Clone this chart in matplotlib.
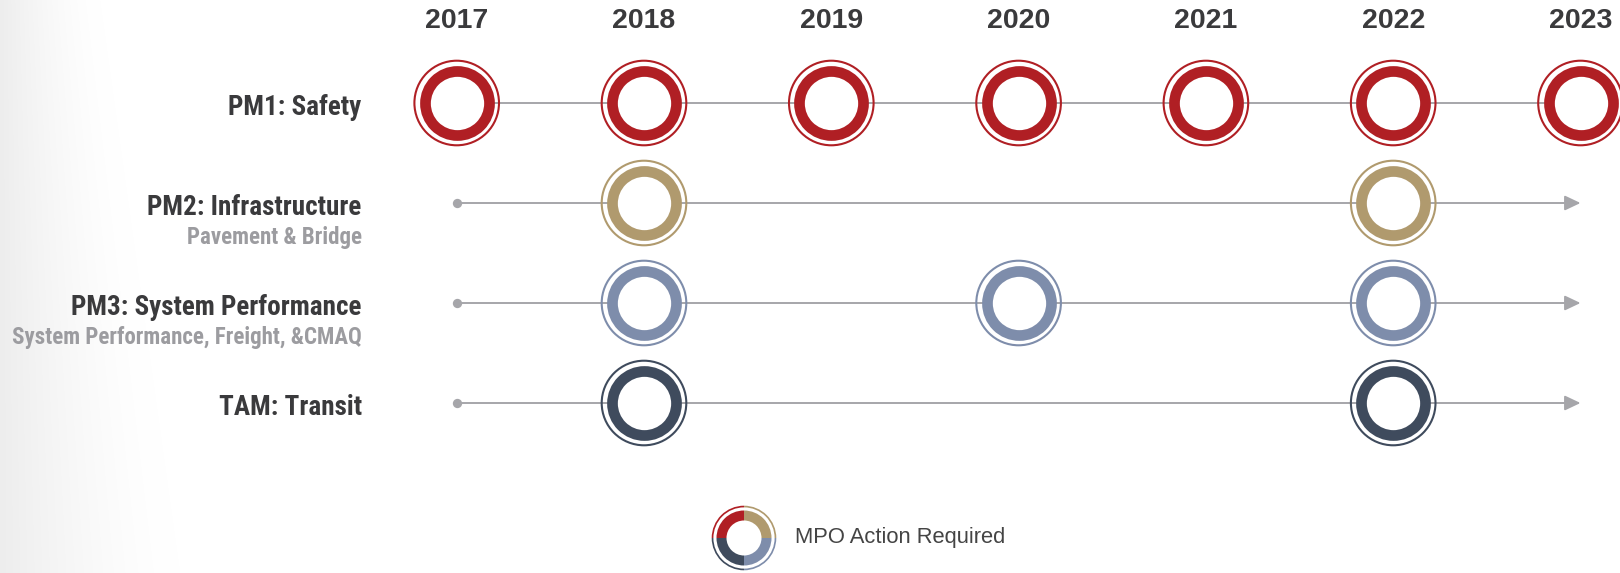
import numpy as np
import matplotlib
matplotlib.use("Agg")
import matplotlib.pyplot as plt
from matplotlib.patches import Wedge
from matplotlib import font_manager

# ---------------- data ----------------
years = [2017, 2018, 2019, 2020, 2021, 2022, 2023]
measures = ["PM1: Safety", "PM2: Infrastructure", "PM3: System Performance", "TAM: Transit"]
subtitles = ["", "Pavement & Bridge", "System Performance, Freight, &CMAQ", ""]
action_years = [
    [2017, 2018, 2019, 2020, 2021, 2022, 2023],
    [2018, 2022],
    [2018, 2020, 2022],
    [2018, 2022],
]
measure_colors = ["#B01F24", "#B09A6E", "#7E8DAB", "#3F4B5D"]
has_arrow = [False, True, True, True]
legend_label = "MPO Action Required"

# ---------------- style ----------------
W, H, DPI = 1620, 573, 100
LINE_GREY = "#A6A6AA"
DARK = "#3A3A3C"
SUB_GREY = "#9C9CA0"

avail = {f.name for f in font_manager.fontManager.ttflist}
narrow = [f for f in ["Liberation Sans Narrow", "Roboto Condensed", "Open Sans Condensed"] if f in avail]
NARROW = narrow[0] if narrow else "Liberation Sans"
REG = "Liberation Sans" if "Liberation Sans" in avail else "DejaVu Sans"

fig = plt.figure(figsize=(W / DPI, H / DPI), dpi=DPI)
fig.patch.set_facecolor("white")

# background gradient (left side soft grey)
bg = fig.add_axes([0, 0, 1, 1], zorder=0)
yy, xx = np.mgrid[0:H, 0:W]
reach = 100 + 80 * (yy / H)
t = np.clip(xx / reach, 0, 1)
val = 1 - 0.07 * (1 - t) ** 1.5
bg.imshow(np.dstack([val, val, val]), extent=[0, W, H, 0], aspect="auto", interpolation="bilinear")
bg.set_axis_off()

# main axes: x in years, y in row index (pixel-calibrated)
ax = fig.add_axes([0, 0, 1, 1], zorder=1)
ax.patch.set_alpha(0)
x0_px, dx_px = 456.7, 187.3
y0_px, dy_px = 103.0, 100.0
ax.set_xlim(years[0] - x0_px / dx_px, years[0] + (W - x0_px) / dx_px)
ax.set_ylim(-y0_px / dy_px + (H / dy_px), -y0_px / dy_px)
ax.set_axis_off()

for i, (name, sub, acts, col, arr) in enumerate(zip(measures, subtitles, action_years, measure_colors, has_arrow)):
    if arr:
        ax.annotate("", xy=(years[-1], i), xytext=(years[0], i),
                    arrowprops=dict(arrowstyle="-|>,head_length=0.95,head_width=0.45",
                                    color=LINE_GREY, lw=1.4, shrinkA=0, shrinkB=0,
                                    mutation_scale=10), zorder=2)
        ax.scatter([years[0]], [i], s=45, color=LINE_GREY, zorder=3, linewidths=0)
    else:
        ax.plot([years[0], years[-1]], [i, i], color=LINE_GREY, lw=1.4, zorder=2)
    ys = [i] * len(acts)
    # outer thin ring
    ax.scatter(acts, ys, s=60.9 ** 2, facecolors="none", edgecolors=col, linewidths=1.5, zorder=4)
    # thick ring with white hole
    ax.scatter(acts, ys, s=46.1 ** 2, facecolors="white", edgecolors=col, linewidths=7.7, zorder=5)

    ax.annotate(name, xy=(years[0], i), xytext=(-95, -5), textcoords="offset pixels",
                ha="right", va="center", fontsize=19.5, fontweight="bold",
                family=NARROW, color=DARK, zorder=6)
    if sub:
        ax.annotate(sub, xy=(years[0], i), xytext=(-95, -35), textcoords="offset pixels",
                    ha="right", va="center", fontsize=16.5, fontweight="bold",
                    family=NARROW, color=SUB_GREY, zorder=6)

for yr in years:
    ax.annotate(str(yr), xy=(yr, 0), xytext=(0, 82), textcoords="offset pixels",
                ha="center", va="center", fontsize=20.5, fontweight="bold",
                family=REG, color=DARK, zorder=6)

# legend icon
lx, ly, lsz = 744, 538, 70
lax = fig.add_axes([(lx - lsz / 2) / W, (H - ly - lsz / 2) / H, lsz / W, lsz / H], zorder=2)
lax.set_xlim(-lsz / 2, lsz / 2)
lax.set_ylim(-lsz / 2, lsz / 2)
lax.set_axis_off()
lax.patch.set_alpha(0)
quads = [(90, 180), (0, 90), (270, 360), (180, 270)]
for (t1, t2), col in zip(quads, measure_colors):
    lax.add_patch(Wedge((0, 0), 27.5, t1, t2, width=10.0, facecolor=col, edgecolor="none"))
    lax.add_patch(Wedge((0, 0), 32.3, t1, t2, width=1.7, facecolor=col, edgecolor="none"))

fig.text(795 / W, 1 - 538 / H, legend_label, ha="left", va="center",
         fontsize=15.8, family=REG, color="#444444")

fig.savefig("out.png", dpi=DPI, facecolor="white")
